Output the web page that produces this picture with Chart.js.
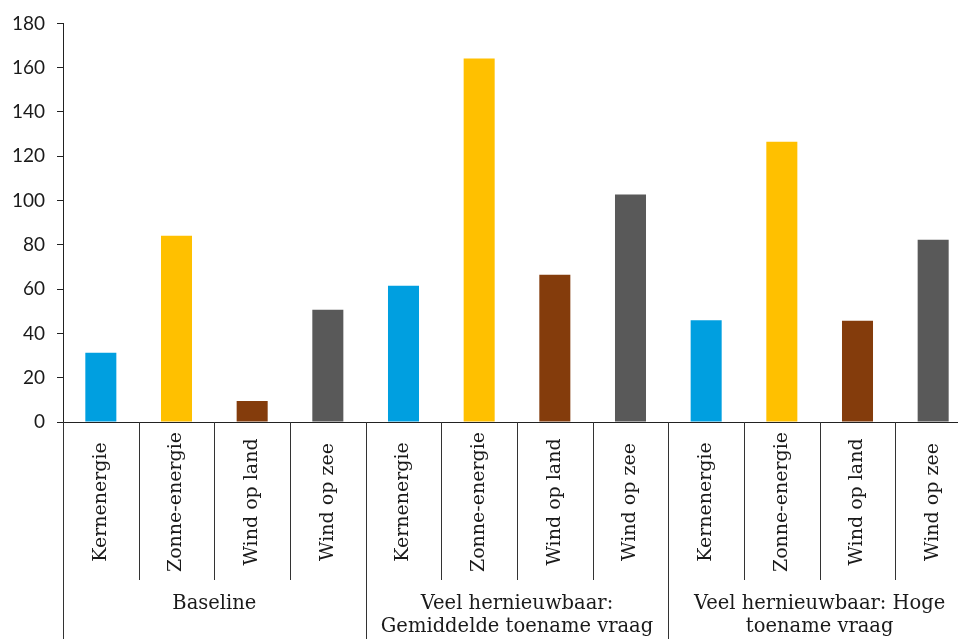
<!DOCTYPE html>
<html>
<head>
<meta charset="utf-8">
<script src="https://cdn.jsdelivr.net/npm/chart.js@4/dist/chart.umd.min.js"></script>
<style>
  html, body { margin: 0; padding: 0; background: #fff; overflow: hidden; }
  #wrap { width: 972px; height: 639px; }
</style>
</head>
<body>
<div id="wrap"><canvas id="chart"></canvas></div>
<script>
const groups = [
  ["Baseline"],
  ["Veel hernieuwbaar:", "Gemiddelde toename vraag"],
  ["Veel hernieuwbaar: Hoge", "toename vraag"],
];
const sources = ["Kernenergie", "Zonne-energie", "Wind op land", "Wind op zee"];
const sourceColors = ["#009fe0", "#ffc000", "#843c0c", "#595959"];
const baselineValues = [31.3, 84.1, 9.5, 50.7];
const gemiddeldValues = [61.5, 164.2, 66.5, 102.7];
const hogeValues = [46, 126.6, 45.7, 82.3];
const yTicks = [0, 20, 40, 60, 80, 100, 120, 140, 160, 180];

const labels = [];
const values = [];
const colors = [];
[baselineValues, gemiddeldValues, hogeValues].forEach((vals) => {
  vals.forEach((v, i) => {
    labels.push(sources[i]);
    values.push(v);
    colors.push(sourceColors[i]);
  });
});

const textColor = "#1a1a1a";
const serif = "'DejaVu Serif', serif";

// draws the two-level category axis under the bars
const categoryAxis = {
  id: "categoryAxis",
  afterDraw(chart) {
    const ctx = chart.ctx;
    const x = chart.scales.x;
    const top = chart.chartArea.bottom;
    const step = x.getPixelForValue(1) - x.getPixelForValue(0);
    ctx.save();
    ctx.strokeStyle = "#333";
    ctx.lineWidth = 1;
    for (let i = 0; i <= labels.length; i++) {
      const px = Math.round(x.getPixelForValue(0) - step / 2 + i * step) + 0.5;
      const isGroup = i % sources.length === 0;
      ctx.beginPath();
      ctx.moveTo(px, top);
      ctx.lineTo(px, isGroup ? chart.height : top + 158);
      ctx.stroke();
    }
    ctx.fillStyle = textColor;
    ctx.textAlign = "center";
    ctx.textBaseline = "middle";
    ctx.font = "19px " + serif;
    labels.forEach((lab, i) => {
      const px = x.getPixelForValue(i);
      ctx.save();
      ctx.translate(px, top + 80);
      ctx.rotate(-Math.PI / 2);
      ctx.fillText(lab, 0, 0);
      ctx.restore();
    });
    ctx.font = "19.5px " + serif;
    groups.forEach((lines, g) => {
      const a = x.getPixelForValue(g * sources.length);
      const b = x.getPixelForValue((g + 1) * sources.length - 1);
      const cx = (a + b) / 2;
      lines.forEach((line, k) => {
        ctx.fillText(line, cx, top + 182 + k * 23);
      });
    });
    ctx.restore();
  },
};

new Chart(document.getElementById("chart"), {
  type: "bar",
  data: {
    labels: labels,
    datasets: [
      {
        data: values,
        backgroundColor: colors,
        barPercentage: 0.41,
        categoryPercentage: 1,
      },
    ],
  },
  options: {
    responsive: true,
    maintainAspectRatio: false,
    animation: false,
    layout: { padding: { top: 14, right: 1, left: 0, bottom: 0 } },
    plugins: {
      legend: { display: false },
      tooltip: { enabled: false },
    },
    scales: {
      x: {
        grid: { display: false },
        border: { display: true, color: "#222", width: 1 },
        ticks: { display: false },
        afterFit(s) { s.height = 217; },
      },
      y: {
        min: 0,
        max: 180,
        afterBuildTicks(s) { s.ticks = yTicks.map((v) => ({ value: v })); },
        grid: { drawOnChartArea: false, drawTicks: true, tickLength: 6, color: "#222" },
        border: { display: true, color: "#222", width: 1 },
        ticks: {
          padding: 12,
          color: textColor,
          font: { family: "Lato, sans-serif", size: 19 },
        },
        afterFit(s) { s.width = 63; },
      },
    },
  },
  plugins: [categoryAxis],
});
</script>
</body>
</html>
